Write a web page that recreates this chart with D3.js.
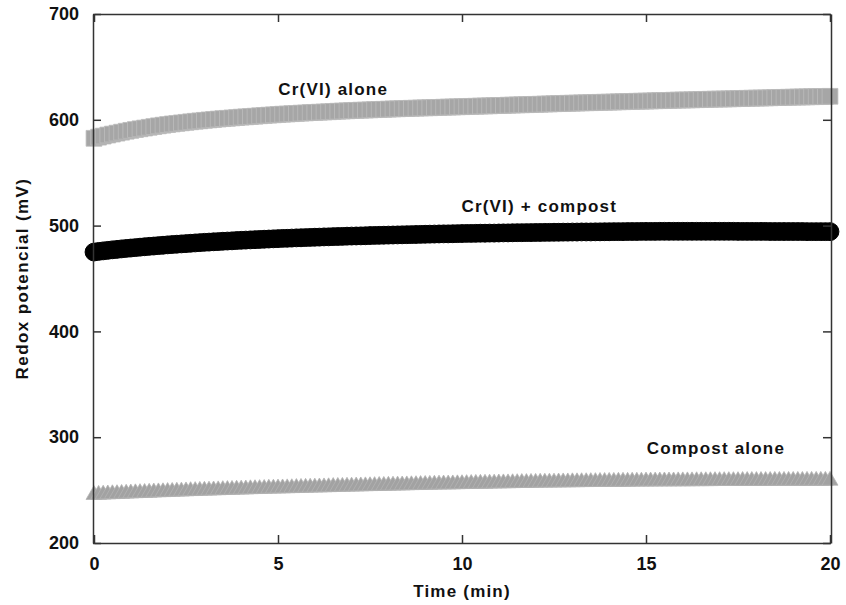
<!DOCTYPE html>
<html>
<head>
<meta charset="utf-8">
<script src="https://cdn.jsdelivr.net/npm/d3@7"></script>
<style>
    body { margin: 0; background: #fff; }
    svg { display: block; font-family: "Liberation Sans", Arial, sans-serif; }
    .axis path, .axis line { stroke: #333; stroke-width: 1.5; }
    .axis text { font-size: 18px; font-weight: bold; fill: #111; }
    .title, .label { font-weight: bold; fill: #111; }
</style>
</head>
<body>
<svg width="846" height="605"></svg>
<script>
// readings taken every 1/8 min, 0..20 min
const timeStep = 0.125;
const times = d3.range(0, 161).map(i => i * timeStep);

const xTicks = [0, 5, 10, 15, 20];
const yTicks = [200, 300, 400, 500, 600, 700];

// Cr(VI) alone, square markers
const crAlone = [
    582.5, 583.6, 584.6, 585.6, 586.5, 587.4, 588.3, 589.2,
    590.0, 590.8, 591.5, 592.2, 592.9, 593.6, 594.3, 594.9,
    595.5, 596.1, 596.6, 597.1, 597.6, 598.1, 598.6, 599.0,
    599.5, 599.9, 600.3, 600.7, 601.1, 601.4, 601.8, 602.1,
    602.5, 602.8, 603.1, 603.4, 603.8, 604.1, 604.4, 604.7,
    605.0, 605.3, 605.5, 605.8, 606.0, 606.3, 606.5, 606.8,
    607.0, 607.2, 607.4, 607.6, 607.9, 608.1, 608.3, 608.5,
    608.7, 608.9, 609.1, 609.2, 609.4, 609.6, 609.8, 609.9,
    610.1, 610.3, 610.4, 610.6, 610.7, 610.9, 611.0, 611.2,
    611.3, 611.4, 611.6, 611.7, 611.9, 612.0, 612.1, 612.3,
    612.4, 612.5, 612.7, 612.8, 613.0, 613.1, 613.2, 613.4,
    613.5, 613.6, 613.8, 613.9, 614.1, 614.2, 614.3, 614.5,
    614.6, 614.7, 614.9, 615.0, 615.2, 615.3, 615.4, 615.6,
    615.7, 615.8, 616.0, 616.1, 616.2, 616.3, 616.5, 616.6,
    616.7, 616.8, 617.0, 617.1, 617.2, 617.3, 617.5, 617.6,
    617.7, 617.8, 618.0, 618.1, 618.2, 618.3, 618.5, 618.6,
    618.7, 618.8, 618.9, 619.0, 619.2, 619.3, 619.4, 619.5,
    619.6, 619.7, 619.8, 619.9, 620.1, 620.2, 620.3, 620.4,
    620.5, 620.6, 620.7, 620.8, 621.0, 621.1, 621.2, 621.3,
    621.4, 621.5, 621.6, 621.7, 621.8, 621.9, 622.0, 622.1,
    622.2
];

// Cr(VI) + compost, circle markers
const crCompost = [
    475.0, 475.6, 476.1, 476.6, 477.1, 477.5, 478.0, 478.4,
    478.8, 479.2, 479.6, 480.0, 480.4, 480.7, 481.1, 481.4,
    481.8, 482.1, 482.4, 482.7, 483.0, 483.3, 483.6, 483.9,
    484.2, 484.4, 484.7, 484.9, 485.2, 485.4, 485.6, 485.9,
    486.1, 486.3, 486.5, 486.7, 486.9, 487.1, 487.3, 487.5,
    487.7, 487.9, 488.0, 488.2, 488.4, 488.5, 488.7, 488.8,
    489.0, 489.1, 489.3, 489.4, 489.6, 489.7, 489.8, 490.0,
    490.1, 490.2, 490.3, 490.4, 490.6, 490.7, 490.8, 490.9,
    491.0, 491.1, 491.2, 491.3, 491.4, 491.5, 491.6, 491.7,
    491.8, 491.9, 492.0, 492.1, 492.2, 492.2, 492.3, 492.4,
    492.5, 492.6, 492.6, 492.7, 492.8, 492.8, 492.9, 492.9,
    493.0, 493.1, 493.1, 493.2, 493.3, 493.3, 493.4, 493.4,
    493.5, 493.5, 493.6, 493.6, 493.7, 493.7, 493.8, 493.8,
    493.9, 493.9, 494.0, 494.0, 494.0, 494.1, 494.1, 494.2,
    494.2, 494.3, 494.3, 494.3, 494.4, 494.4, 494.4, 494.5,
    494.5, 494.5, 494.5, 494.6, 494.6, 494.6, 494.6, 494.6,
    494.6, 494.6, 494.6, 494.6, 494.6, 494.6, 494.6, 494.6,
    494.6, 494.6, 494.6, 494.6, 494.5, 494.5, 494.5, 494.5,
    494.5, 494.5, 494.5, 494.4, 494.4, 494.4, 494.4, 494.4,
    494.4, 494.4, 494.4, 494.3, 494.3, 494.3, 494.3, 494.3,
    494.3
];

// Compost alone, triangle markers
const compostAlone = [
    245.5, 245.7, 245.9, 246.1, 246.3, 246.4, 246.6, 246.8,
    247.0, 247.2, 247.4, 247.5, 247.7, 247.9, 248.1, 248.2,
    248.4, 248.5, 248.7, 248.8, 249.0, 249.2, 249.3, 249.5,
    249.6, 249.7, 249.9, 250.0, 250.2, 250.3, 250.4, 250.6,
    250.7, 250.8, 251.0, 251.1, 251.2, 251.3, 251.5, 251.6,
    251.7, 251.8, 251.9, 252.0, 252.2, 252.3, 252.4, 252.5,
    252.6, 252.7, 252.8, 252.9, 253.1, 253.2, 253.3, 253.4,
    253.5, 253.6, 253.7, 253.8, 253.9, 254.0, 254.1, 254.2,
    254.3, 254.4, 254.5, 254.6, 254.7, 254.8, 254.9, 255.0,
    255.1, 255.2, 255.3, 255.4, 255.5, 255.5, 255.6, 255.7,
    255.8, 255.9, 256.0, 256.1, 256.2, 256.2, 256.3, 256.4,
    256.5, 256.6, 256.6, 256.7, 256.8, 256.9, 256.9, 257.0,
    257.1, 257.2, 257.2, 257.3, 257.3, 257.4, 257.5, 257.5,
    257.6, 257.6, 257.7, 257.7, 257.8, 257.8, 257.9, 257.9,
    258.0, 258.0, 258.1, 258.1, 258.1, 258.2, 258.2, 258.2,
    258.3, 258.3, 258.3, 258.4, 258.4, 258.4, 258.4, 258.5,
    258.5, 258.5, 258.5, 258.6, 258.6, 258.6, 258.6, 258.7,
    258.7, 258.7, 258.7, 258.7, 258.7, 258.8, 258.8, 258.8,
    258.8, 258.8, 258.8, 258.8, 258.9, 258.9, 258.9, 258.9,
    258.9, 258.9, 258.9, 259.0, 259.0, 259.0, 259.0, 259.0,
    259.0
];

const seriesLabels = [
    { text: "Cr(VI) alone", t: 6.5, v: 623.4 },
    { text: "Cr(VI) + compost", t: 12.1, v: 512.7 },
    { text: "Compost alone", t: 16.9, v: 283.9 }
];

const svg = d3.select("svg");
const attr_area = { width: 846, height: 605, left: 93, right: 15, top: 14, bottom: 62 };
const plotW = attr_area.width - attr_area.left - attr_area.right;
const plotH = attr_area.height - attr_area.top - attr_area.bottom;

const scaleX = d3.scaleLinear().domain([0, 20]).range([1, plotW - 1]);
const scaleY = d3.scaleLinear().domain([200, 700]).range([plotH, 0]);

const g = svg.append("g").attr("transform", `translate(${attr_area.left}, ${attr_area.top})`);

function drawSeries(values, symbolType, size, fill, stroke, strokeWidth) {
    const sym = d3.symbol().type(symbolType).size(size);
    g.append("g")
        .selectAll("path")
        .data(values.map((v, i) => ({ t: times[i], v: v })))
        .enter()
        .append("path")
        .attr("d", sym)
        .attr("transform", d => `translate(${scaleX(d.t)}, ${scaleY(d.v)})`)
        .style("fill", fill)
        .style("stroke", stroke)
        .style("stroke-width", strokeWidth);
}

drawSeries(crAlone, d3.symbolSquare, 250, "#a6a6a6", "#bcbcbc", 0.8);
drawSeries(compostAlone, d3.symbolTriangle, 110, "#a2a2a2", "#b4b4b4", 0.8);
drawSeries(crCompost, d3.symbolCircle, 250, "#000", "#000", 1);

// axes, all ticks pointing inward
g.append("g").attr("class", "axis")
    .attr("transform", `translate(0, ${plotH})`)
    .call(d3.axisBottom(scaleX).tickValues(xTicks).tickSizeInner(-8).tickSizeOuter(0).tickPadding(14));
g.append("g").attr("class", "axis")
    .call(d3.axisTop(scaleX).tickValues(xTicks).tickSizeInner(-8).tickSizeOuter(0).tickFormat(""));
g.append("g").attr("class", "axis")
    .call(d3.axisLeft(scaleY).tickValues(yTicks).tickSizeInner(-8).tickSizeOuter(0).tickPadding(14));
g.append("g").attr("class", "axis")
    .attr("transform", `translate(${plotW}, 0)`)
    .call(d3.axisRight(scaleY).tickValues(yTicks).tickSizeInner(-8).tickSizeOuter(0).tickFormat(""));

// series labels
g.selectAll(".label")
    .data(seriesLabels)
    .enter()
    .append("text")
    .attr("class", "label")
    .attr("x", d => scaleX(d.t))
    .attr("y", d => scaleY(d.v))
    .attr("text-anchor", "middle")
    .style("font-size", "17px")
    .style("letter-spacing", "1.2px")
    .text(d => d.text);

// axis titles
svg.append("text")
    .attr("class", "title")
    .attr("x", attr_area.left + plotW / 2)
    .attr("y", 597)
    .attr("text-anchor", "middle")
    .style("font-size", "17px")
    .style("letter-spacing", "1.2px")
    .text("Time (min)");

svg.append("text")
    .attr("class", "title")
    .attr("transform", `translate(28, ${attr_area.top + plotH / 2}) rotate(-90)`)
    .attr("text-anchor", "middle")
    .style("font-size", "17px")
    .style("letter-spacing", "1.4px")
    .text("Redox potencial (mV)");
</script>
</body>
</html>
